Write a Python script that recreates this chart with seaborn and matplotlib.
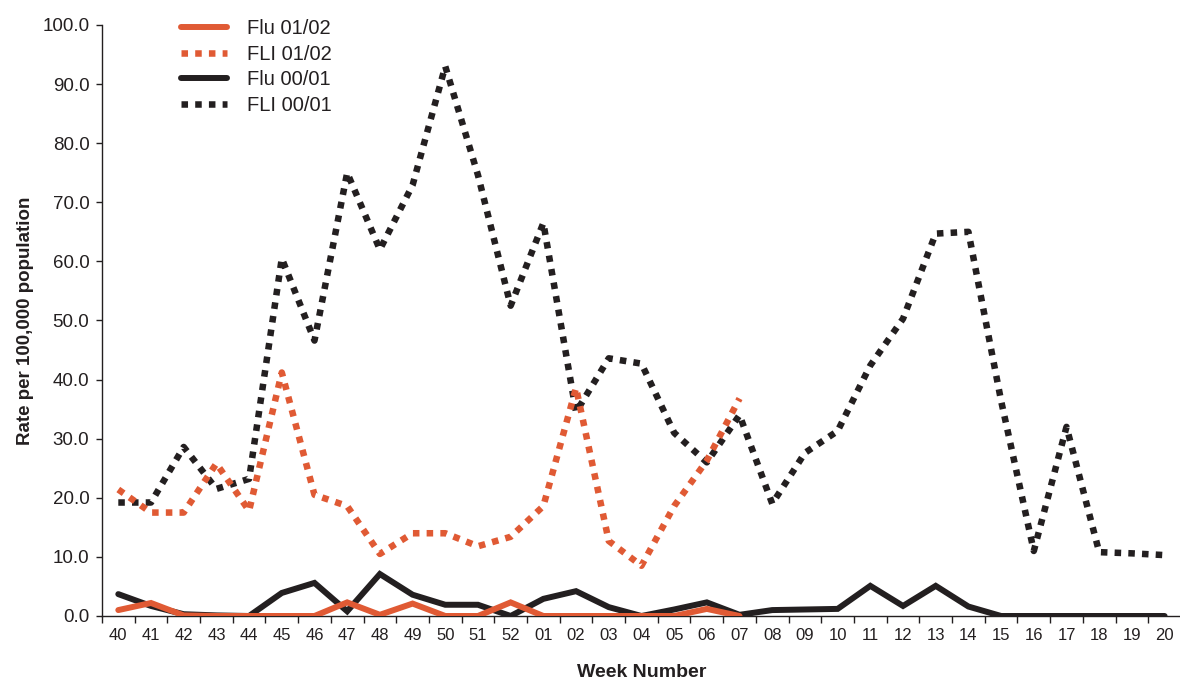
import numpy as np
import pandas as pd
import matplotlib
matplotlib.use("Agg")
import matplotlib.pyplot as plt
import seaborn as sns

# Week labels across the season (week 40 through week 20 of the next year)
weeks = ["40", "41", "42", "43", "44", "45", "46", "47", "48", "49", "50",
         "51", "52", "01", "02", "03", "04", "05", "06", "07", "08", "09",
         "10", "11", "12", "13", "14", "15", "16", "17", "18", "19", "20"]

# Season 2001/02 (reported up to week 07)
flu_0102 = [1.0, 2.2, 0.1, 0.0, 0.0, 0.0, 0.0, 2.3, 0.2, 2.1, 0.0,
            0.0, 2.3, 0.0, 0.0, 0.0, 0.0, 0.0, 1.2, 0.0]
fli_0102 = [21.4, 17.5, 17.5, 25.8, 17.8, 41.2, 20.5, 18.6, 10.5, 14.0, 14.0,
            11.8, 13.4, 18.6, 38.6, 12.7, 8.5, 18.6, 26.3, 36.8]

# Season 2000/01 (full season)
flu_0001 = [3.7, 1.7, 0.3, 0.1, 0.0, 3.9, 5.6, 0.8, 7.1, 3.6, 1.9,
            1.9, 0.0, 2.9, 4.2, 1.5, 0.0, 1.1, 2.3, 0.2, 1.0, 1.1,
            1.2, 5.1, 1.7, 5.1, 1.6, 0.0, 0.0, 0.0, 0.0, 0.0, 0.0]
fli_0001 = [19.2, 19.2, 28.6, 21.5, 23.2, 60.5, 46.6, 75.0, 62.0, 72.9, 93.0,
            74.6, 52.5, 66.5, 34.5, 43.6, 42.7, 31.0, 26.0, 34.0, 19.0, 27.6,
            31.3, 42.4, 50.3, 64.7, 65.0, 36.4, 11.0, 32.0, 10.8, 10.6, 10.3]

RED = "#E05A34"
BLACK = "#231F20"

sns.set_theme(style="ticks")
plt.rcParams["font.family"] = ["Liberation Sans", "DejaVu Sans"]

fig = plt.figure(figsize=(11.8, 6.79), dpi=100)
ax = fig.add_axes([0.0864, 0.0928, 0.9144, 0.8704])

def frame(values):
    return pd.DataFrame({"pos": np.arange(len(values)), "rate": values})

dot = dict(linestyle=(0, (1, 1.1)), dash_capstyle="butt", linewidth=4.7)
solid = dict(linestyle="-", linewidth=4.3, solid_joinstyle="miter")

sns.lineplot(data=frame(fli_0001), x="pos", y="rate", color=BLACK,
             label="FLI 00/01", ax=ax, zorder=2, **dot)
sns.lineplot(data=frame(flu_0001), x="pos", y="rate", color=BLACK,
             label="Flu 00/01", ax=ax, zorder=3, **solid)
sns.lineplot(data=frame(fli_0102), x="pos", y="rate", color=RED,
             label="FLI 01/02", ax=ax, zorder=4, **dot)
sns.lineplot(data=frame(flu_0102), x="pos", y="rate", color=RED,
             label="Flu 01/02", ax=ax, zorder=5, **solid)

# Axes limits and ticks
ax.set_xlim(-0.5, len(weeks) - 0.5)
ax.set_ylim(0, 100)
ax.set_yticks(np.arange(0, 101, 10))
ax.set_yticklabels([f"{v:.1f}" for v in np.arange(0, 101, 10)])
ax.set_xticks(np.arange(len(weeks)))
ax.set_xticklabels(weeks)
ax.set_xticks(np.arange(-0.5, len(weeks), 1), minor=True)
ax.tick_params(axis="x", which="major", length=0, pad=9, labelsize=12,
               labelcolor=BLACK)
ax.tick_params(axis="x", which="minor", length=5, width=1.0, color=BLACK,
               direction="out")
ax.tick_params(axis="y", length=4, width=1.0, color=BLACK, pad=5,
               labelsize=13.5, labelcolor=BLACK)

for side in ("top", "right"):
    ax.spines[side].set_visible(False)
for side in ("left", "bottom"):
    ax.spines[side].set_color(BLACK)
    ax.spines[side].set_linewidth(1.0)
ax.spines["left"].set_bounds(0, 100)

ax.set_xlabel("Week Number", fontsize=14, fontweight="bold", color=BLACK,
              labelpad=14.5)
ax.set_ylabel("Rate per 100,000 population", fontsize=13.5, fontweight="bold",
              color=BLACK, labelpad=6)

# Legend in the order Flu 01/02, FLI 01/02, Flu 00/01, FLI 00/01
handles, labels = ax.get_legend_handles_labels()
lookup = dict(zip(labels, handles))
order = ["Flu 01/02", "FLI 01/02", "Flu 00/01", "FLI 00/01"]
ax.legend([lookup[k] for k in order], order, loc="upper left",
          bbox_to_anchor=(177 / 1180, 1 - 15 / 679),
          bbox_transform=fig.transFigure, frameon=False, fontsize=14.5,
          handlelength=2.3, handletextpad=1.0, labelspacing=0.33,
          borderaxespad=0, borderpad=0.2)
for txt in ax.get_legend().get_texts():
    txt.set_color(BLACK)

fig.savefig("out.png", dpi=100)
